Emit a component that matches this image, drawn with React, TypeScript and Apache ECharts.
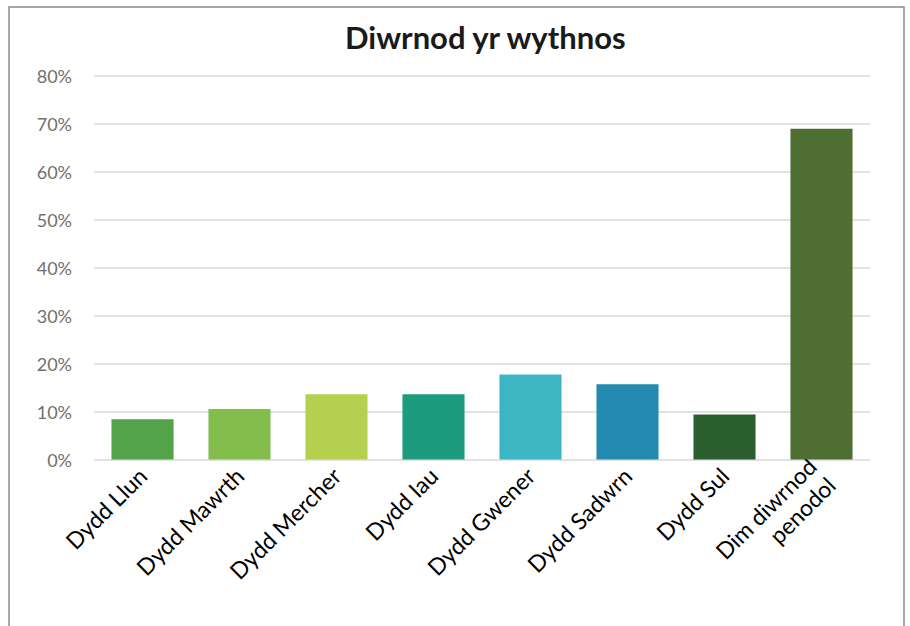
import React, { useEffect, useRef } from "react";
import * as echarts from "echarts";

const categories = [
  "Dydd Llun",
  "Dydd Mawrth",
  "Dydd Mercher",
  "Dydd Iau",
  "Dydd Gwener",
  "Dydd Sadwrn",
  "Dydd Sul",
  "Dim diwrnod\npenodol",
];
const values = [8.4, 10.5, 13.6, 13.6, 17.7, 15.7, 9.4, 68.9];
const barColors = [
  "#53A34A",
  "#83BD4C",
  "#B5D04E",
  "#1D9B7E",
  "#3CB6C3",
  "#238BB0",
  "#2A5E2E",
  "#4F6E32",
];
const titleText = "Diwrnod yr wythnos";

export default function App() {
  const ref = useRef<HTMLDivElement>(null);
  useEffect(() => {
    if (!ref.current) return;
    const chart = echarts.init(ref.current, undefined, { renderer: "svg" });
    chart.setOption({
      animation: false,
      backgroundColor: "#ffffff",
      textStyle: { fontFamily: "Lato" },
      title: {
        text: titleText,
        left: 340,
        top: 16,
        textStyle: { fontFamily: "Lato", fontSize: 31, fontWeight: "bold", color: "#1a1a1a" },
      },
      graphic: [
        {
          type: "rect",
          shape: { x: 9, y: 7, width: 895, height: 640 },
          style: { fill: "none", stroke: "#8a8a8a", lineWidth: 1.5 },
          silent: true,
        },
      ],
      grid: { left: 94, right: 40, top: 75.5, bottom: 166.5, containLabel: false },
      xAxis: {
        type: "category",
        data: categories,
        axisLine: { show: false },
        axisTick: { show: false },
        axisLabel: {
          rotate: 45,
          interval: 0,
          margin: 12,
          fontSize: 23,
          color: "#000000",
          fontFamily: "Lato",
          align: "right",
          lineHeight: 27,
        },
      },
      yAxis: {
        type: "value",
        min: 0,
        max: 80,
        interval: 10,
        axisLine: { show: false },
        axisTick: { show: false },
        splitLine: { lineStyle: { color: "#d9d9d9", width: 1.5 } },
        axisLabel: {
          formatter: "{value}%",
          fontSize: 18,
          color: "#707070",
          margin: 22,
          fontFamily: "Lato",
        },
      },
      series: [
        {
          type: "bar",
          data: values.map((v, i) => ({ value: v, itemStyle: { color: barColors[i] } })),
          barWidth: "64%",
        },
      ],
    });
    return () => chart.dispose();
  }, []);
  return <div ref={ref} style={{ width: 910, height: 626, position: "absolute", left: 0, top: 0 }} />;
}
